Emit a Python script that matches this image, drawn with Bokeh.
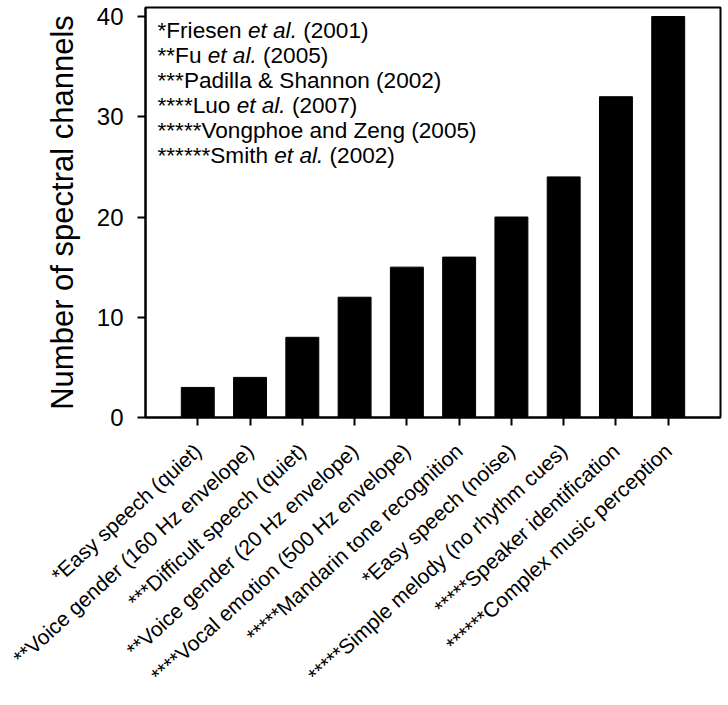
import math
from bokeh.plotting import figure
from bokeh.models import FactorRange, Range1d, Label
from bokeh.embed import file_html
from bokeh.resources import INLINE

categories = [
    "*Easy speech (quiet)",
    "**Voice gender (160 Hz envelope)",
    "***Difficult speech (quiet)",
    "**Voice gender (20 Hz envelope)",
    "****Vocal emotion (500 Hz envelope)",
    "*****Mandarin tone recognition",
    "*Easy speech (noise)",
    "*****Simple melody (no rhythm cues)",
    "*****Speaker identification",
    "******Complex music perception",
]
channels = [3, 4, 8, 12, 15, 16, 20, 24, 32, 40]
y_ticks = [0, 10, 20, 30, 40]
y_label = "Number of spectral channels"

# reference notes: (plain prefix, italic part, plain suffix)
refs = [
    ("*Friesen", "et al.", "(2001)"),
    ("**Fu", "et al.", "(2005)"),
    ("***Padilla & Shannon (2002)", "", ""),
    ("****Luo", "et al.", "(2007)"),
    ("*****Vongphoe and Zeng (2005)", "", ""),
    ("******Smith", "et al.", "(2002)"),
]

FONT = "Liberation Sans"
# Arial / Liberation Sans advance widths (per 1000 em) for measuring prefixes
W = {'*': 389, 'F': 611, 'r': 333, 'i': 222, 'e': 556, 's': 500, 'n': 556, ' ': 278,
     'u': 556, 'L': 556, 'o': 556, 'S': 667, 'm': 833, 't': 278, 'h': 556, 'a': 556,
     'l': 222, '.': 278}


def text_width(s, size):
    return sum(W.get(c, 556) for c in s) / 1000.0 * size


p = figure(
    x_range=FactorRange(*categories, range_padding=0.1),
    y_range=Range1d(0, 40.9),
    frame_width=575, frame_height=410,
    min_border_left=145, min_border_right=6, min_border_top=7, min_border_bottom=0,
    output_backend="svg", toolbar_location=None,
)

p.vbar(x=categories, top=channels, bottom=0, width=0.63,
       fill_color="black", line_color="black")

p.xgrid.visible = False
p.ygrid.visible = False
p.outline_line_color = "black"
p.outline_line_width = 2
p.outline_line_alpha = 1.0
p.background_fill_color = "white"
p.border_fill_color = "white"

for ax in (p.xaxis, p.yaxis):
    ax.axis_line_width = 2
    ax.axis_line_color = "black"
    ax.major_tick_line_width = 2
    ax.major_tick_line_color = "black"
    ax.major_tick_out = 8
    ax.major_tick_in = 0
    ax.minor_tick_line_color = None
    ax.major_label_text_font = FONT
    ax.major_label_text_color = "black"

p.yaxis.ticker = y_ticks
p.yaxis.major_label_text_font_size = "24px"
p.yaxis.major_label_standoff = 14
p.yaxis.axis_label = y_label
p.yaxis.axis_label_text_font = FONT
p.yaxis.axis_label_text_font_size = "31px"
p.yaxis.axis_label_text_font_style = "normal"
p.yaxis.axis_label_text_color = "black"
p.yaxis.axis_label_standoff = 14

p.xaxis.major_label_orientation = 0.74
p.xaxis.major_label_text_font_size = "21px"
p.xaxis.major_label_standoff = 22

# notes block in the upper left of the plot
LSIZE = 22.6
SP = text_width(" ", LSIZE)
x0 = -0.5
top_y = 38.6
step = 2.5
for k, (pre, ital, post) in enumerate(refs):
    yy = top_y - k * step
    off = 12
    p.add_layout(Label(x=x0, y=yy, x_offset=off, text=pre, text_font=FONT,
                       text_font_size=f"{LSIZE}px", text_color="black",
                       text_baseline="alphabetic", text_align="left"))
    if ital:
        off2 = off + text_width(pre, LSIZE) + SP
        p.add_layout(Label(x=x0, y=yy, x_offset=off2, text=ital, text_font=FONT,
                           text_font_size=f"{LSIZE}px", text_font_style="italic",
                           text_color="black", text_baseline="alphabetic",
                           text_align="left"))
        off3 = off2 + text_width(ital, LSIZE) + SP
        p.add_layout(Label(x=x0, y=yy, x_offset=off3, text=post, text_font=FONT,
                           text_font_size=f"{LSIZE}px", text_color="black",
                           text_baseline="alphabetic", text_align="left"))

open("out.html", "w").write(file_html(p, INLINE))
